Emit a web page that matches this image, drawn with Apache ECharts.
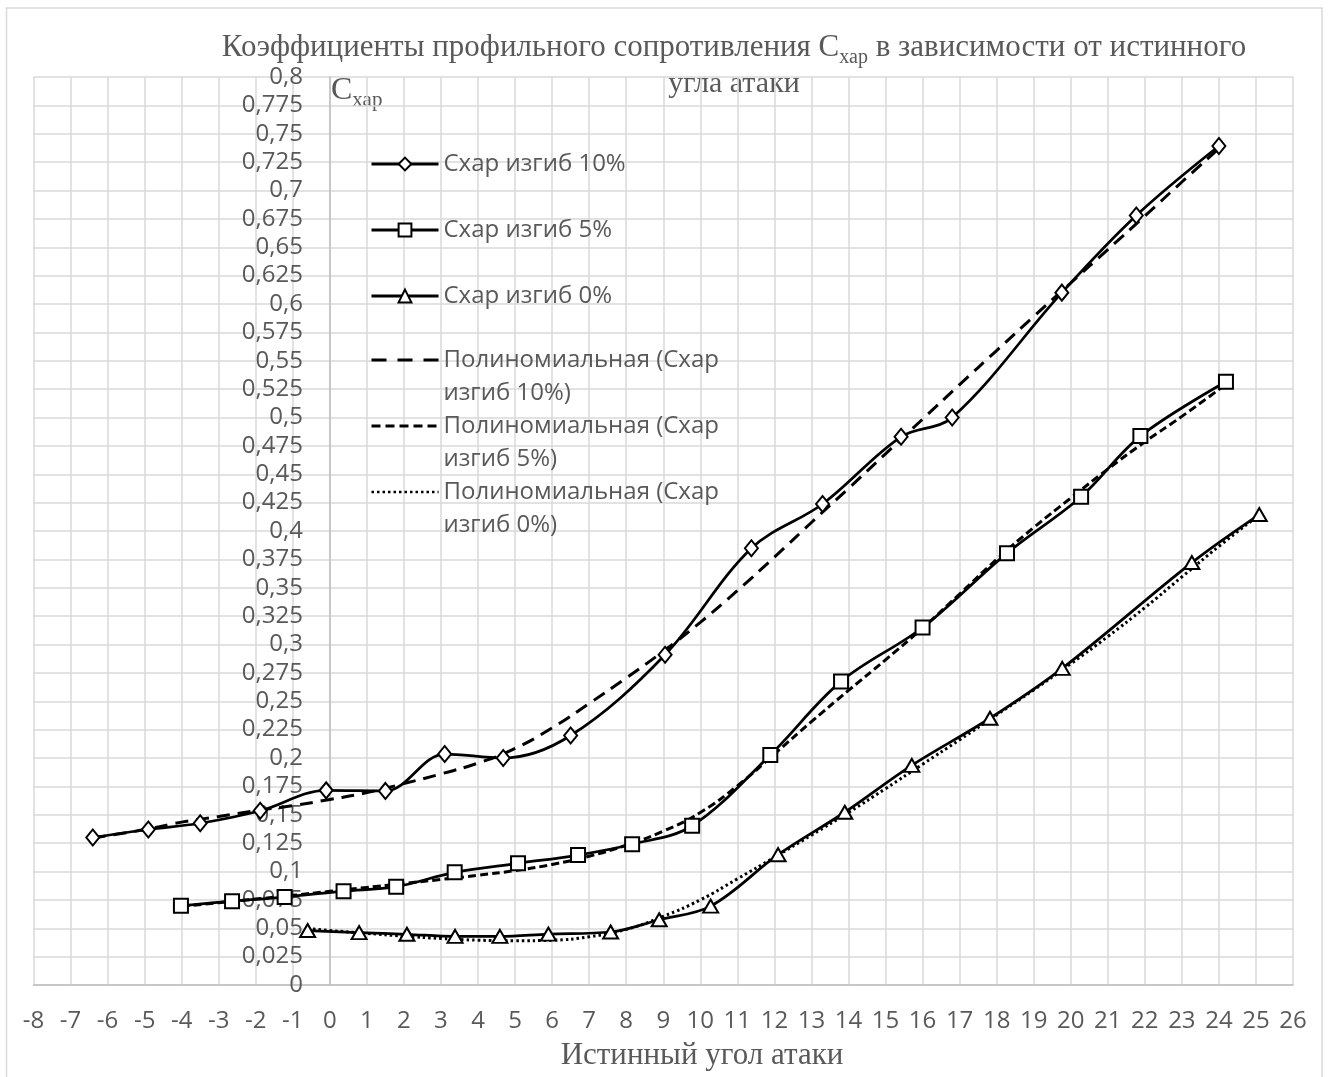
<!DOCTYPE html>
<html>
<head>
<meta charset="utf-8">
<script src="https://cdn.jsdelivr.net/npm/echarts@6/dist/echarts.min.js"></script>
<style>
  html, body { margin: 0; padding: 0; background: #fff; }
  #chart { width: 1331px; height: 1077px; }
</style>
</head>
<body>
<div id="chart"></div>
<script>
// Measured drag coefficient Cхар versus true angle of attack (deg), three camber values
const camber10Angle = [-6.4, -4.9, -3.5, -1.88, -0.1, 1.5, 3.1, 4.68, 6.5, 9.05, 11.38, 13.3, 15.42, 16.8, 19.76, 21.77, 24.0];
const camber10Cx    = [0.130, 0.137, 0.1425, 0.1535, 0.1715, 0.171, 0.2035, 0.2, 0.2198, 0.291, 0.3848, 0.4238, 0.483, 0.5, 0.61, 0.678, 0.7392];

const camber5Angle = [-4.02, -2.64, -1.22, 0.37, 1.79, 3.37, 5.08, 6.7, 8.16, 9.78, 11.89, 13.8, 16.0, 18.28, 20.28, 21.88, 24.19];
const camber5Cx    = [0.0698, 0.0738, 0.0775, 0.0827, 0.0866, 0.0993, 0.1072, 0.1145, 0.124, 0.1403, 0.2027, 0.2675, 0.315, 0.3805, 0.4302, 0.4836, 0.5315];

const camber0Angle = [-0.6, 0.79, 2.08, 3.38, 4.59, 5.9, 7.58, 8.89, 10.28, 12.1, 13.9, 15.71, 17.82, 19.77, 23.27, 25.09];
const camber0Cx    = [0.048, 0.0462, 0.0447, 0.0428, 0.0428, 0.0448, 0.0467, 0.0575, 0.0695, 0.1148, 0.1522, 0.1935, 0.235, 0.279, 0.3722, 0.4145];

// Polynomial trend curves, sampled along each range
const trend10Angle = [-6.4, -5, -4, -3, -2, -1, 0, 1, 2, 3, 4, 5, 6, 7, 8, 9, 10, 11, 12, 13, 14, 15, 16, 17, 18, 19, 20, 21, 22, 23, 24];
const trend10Cx    = [0.1295, 0.137, 0.1435, 0.1485, 0.1535, 0.158, 0.1635, 0.1695, 0.1775, 0.186, 0.1955, 0.2085, 0.2265, 0.248, 0.2705, 0.294, 0.3195, 0.3475, 0.377, 0.4075, 0.4375, 0.468, 0.4985, 0.529, 0.559, 0.589, 0.6185, 0.648, 0.6775, 0.7075, 0.737];

const trend5Angle = [-4, -3, -2, -1, 0, 1, 2, 3, 4, 5, 6, 7, 8, 9, 10, 11, 12, 13, 14, 15, 16, 17, 18, 19, 20, 21, 22, 23, 24.2];
const trend5Cx    = [0.0693, 0.0725, 0.0757, 0.079, 0.0825, 0.086, 0.0895, 0.093, 0.0967, 0.1008, 0.1062, 0.1135, 0.1232, 0.1355, 0.152, 0.1755, 0.2035, 0.232, 0.2595, 0.2865, 0.3145, 0.3445, 0.375, 0.403, 0.429, 0.4545, 0.4785, 0.501, 0.5295];

const trend0Angle = [-0.6, 0, 1, 2, 3, 4, 5, 6, 7, 8, 9, 10, 11, 12, 13, 14, 15, 16, 17, 18, 19, 20, 21, 22, 23, 24, 25.1];
const trend0Cx    = [0.0497, 0.048, 0.0455, 0.043, 0.041, 0.0395, 0.039, 0.0395, 0.0425, 0.049, 0.0605, 0.075, 0.0935, 0.1125, 0.132, 0.152, 0.173, 0.1945, 0.216, 0.238, 0.26, 0.283, 0.307, 0.3325, 0.3595, 0.3865, 0.4145];

const seriesNames = ['Схар изгиб 10%', 'Схар изгиб 5%', 'Схар изгиб 0%'];
const trendNames = ['Полиномиальная (Схар изгиб 10%)', 'Полиномиальная (Схар изгиб 5%)', 'Полиномиальная (Схар изгиб 0%)'];

const pairs = (xs, ys) => xs.map((x, i) => [x, ys[i]]);

const GRAY = '#595959';
const SANS = '"Open Sans", "Noto Sans", sans-serif';
const SERIF = '"Liberation Serif", "DejaVu Serif", serif';

// grid edges; the value axis is drawn at angle 0
const GRID_LEFT = 33.5, GRID_RIGHT = 38, X_MIN = -8, X_MAX = 26;
const plotWidth = 1331 - GRID_LEFT - GRID_RIGHT;
const zeroOffset = plotWidth * (0 - X_MIN) / (X_MAX - X_MIN);

const dash10 = [13, 8];
const dash5 = [8, 4];
const dot0 = [2.5, 3];

function measured(name, data, symbol, size) {
  return {
    name, type: 'line', data, smooth: 0.35,
    symbol, symbolSize: size, showSymbol: true,
    lineStyle: { color: '#000', width: 2.75 },
    itemStyle: { color: '#fff', borderColor: '#000', borderWidth: 2 },
    z: 4
  };
}
function trend(name, data, dash, width) {
  return {
    name, type: 'line', data, smooth: true, symbol: 'none',
    lineStyle: { color: '#000', width, type: dash, cap: 'butt' },
    itemStyle: { color: '#000' },
    z: 3
  };
}

const chart = echarts.init(document.getElementById('chart'));
chart.setOption({
  animation: false,
  backgroundColor: '#fff',
  grid: { left: GRID_LEFT, right: GRID_RIGHT, top: 77, bottom: 92, outerBoundsMode: 'none', containLabel: false },
  xAxis: {
    type: 'value', min: X_MIN, max: X_MAX, interval: 1,
    axisLine: { show: true, onZero: false, lineStyle: { color: '#bfbfbf', width: 1.5 } },
    axisTick: { show: false },
    axisLabel: { color: GRAY, fontFamily: SANS, fontSize: 24, margin: 24, showMinLabel: true, showMaxLabel: true },
    splitLine: { show: true, lineStyle: { color: '#d9d9d9', width: 1.5 } }
  },
  yAxis: {
    type: 'value', min: 0, max: 0.8, interval: 0.025,
    offset: -zeroOffset,
    axisLine: { show: true, onZero: false, lineStyle: { color: '#bfbfbf', width: 1.5 } },
    axisTick: { show: false },
    axisLabel: {
      color: GRAY, fontFamily: SANS, fontSize: 24, margin: 27, showMinLabel: true, showMaxLabel: true,
      formatter: v => String(+v.toFixed(3)).replace('.', ',')
    },
    splitLine: { show: true, lineStyle: { color: '#d9d9d9', width: 1.5 } }
  },
  legend: [
    {
      orient: 'vertical', left: 370, top: 147.5, padding: 0, itemGap: 33,
      itemWidth: 67, itemHeight: 16, selectedMode: false,
      data: seriesNames,
      lineStyle: { width: 3 },
      textStyle: { fontFamily: SANS, fontSize: 24, color: GRAY, lineHeight: 33, backgroundColor: 'transparent' }
    },
    {
      orient: 'vertical', left: 370, top: 310.5, padding: 0, itemGap: -33,
      itemWidth: 67, itemHeight: 16, selectedMode: false,
      // leading blank line keeps the sample line level with the first text line
      formatter: n => '\n' + n.replace('(Схар ', '(Схар\n'),
      data: [
        { name: trendNames[0], itemStyle: { opacity: 0 }, lineStyle: { width: 3, type: [15, 11] } },
        { name: trendNames[1], itemStyle: { opacity: 0 }, lineStyle: { width: 3, type: [9, 5] } },
        { name: trendNames[2], itemStyle: { opacity: 0 }, lineStyle: { width: 2.5, type: [2.5, 3] } }
      ],
      textStyle: { fontFamily: SANS, fontSize: 24, color: GRAY, lineHeight: 33, backgroundColor: 'transparent' }
    }
  ],
  series: [
    measured(seriesNames[0], pairs(camber10Angle, camber10Cx), 'diamond', [13, 16]),
    measured(seriesNames[1], pairs(camber5Angle, camber5Cx), 'rect', 14),
    measured(seriesNames[2], pairs(camber0Angle, camber0Cx), 'triangle', [15, 13]),
    trend(trendNames[0], pairs(trend10Angle, trend10Cx), dash10, 3),
    trend(trendNames[1], pairs(trend5Angle, trend5Cx), dash5, 3),
    trend(trendNames[2], pairs(trend0Angle, trend0Cx), dot0, 3)
  ],
  graphic: [
    {
      type: 'rect', silent: true, z: -10,
      shape: { x: 6.5, y: 8, width: 1315.5, height: 1075 },
      style: { fill: 'none', stroke: '#d9d9d9', lineWidth: 1.5 }
    },
    {
      type: 'text', silent: true,
      style: {
        x: 734, y: 48, align: 'center', verticalAlign: 'middle',
        text: '{a|Коэффициенты профильного сопротивления C}{s|хар}{a| в зависимости от истинного}',
        rich: {
          a: { fontFamily: SERIF, fontSize: 31, lineHeight: 40, fill: GRAY, color: GRAY },
          s: { fontFamily: SERIF, fontSize: 20, lineHeight: 24, verticalAlign: 'bottom', fill: GRAY, color: GRAY }
        }
      }
    },
    {
      type: 'text', silent: true,
      style: {
        x: 734, y: 84, align: 'center', verticalAlign: 'middle',
        text: 'угла атаки', font: '30px ' + SERIF, fill: GRAY
      }
    },
    {
      type: 'text', silent: true,
      style: {
        x: 331, y: 91, align: 'left', verticalAlign: 'middle',
        text: '{a|C}{s|хар}',
        rich: {
          a: { fontFamily: SERIF, fontSize: 32, lineHeight: 40, fill: GRAY, color: GRAY },
          s: { fontFamily: SERIF, fontSize: 21, lineHeight: 23, verticalAlign: 'bottom', fill: GRAY, color: GRAY }
        }
      }
    },
    {
      type: 'text', silent: true,
      style: {
        x: 702, y: 1056, align: 'center', verticalAlign: 'middle',
        text: 'Истинный угол атаки', font: '31px ' + SERIF, fill: GRAY
      }
    }
  ]
});
</script>
</body>
</html>
